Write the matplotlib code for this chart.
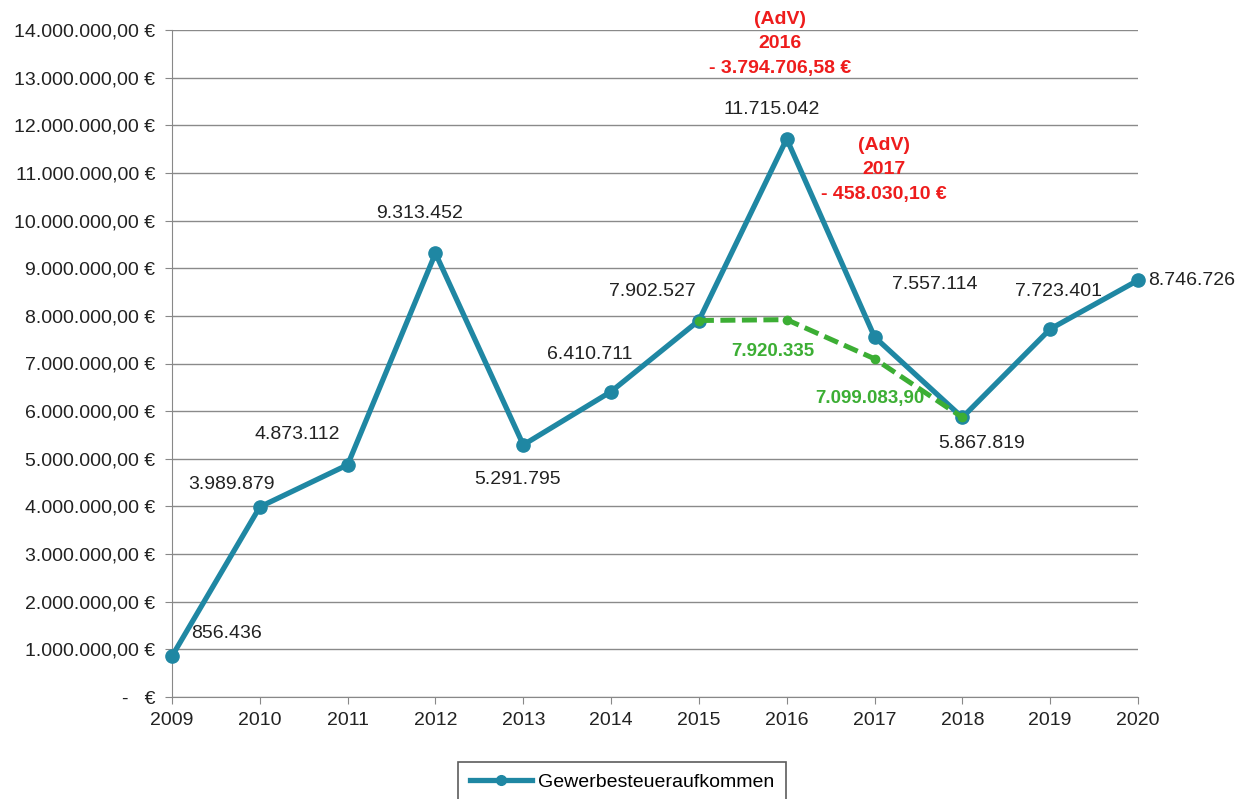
import matplotlib
matplotlib.use("Agg")
import matplotlib.pyplot as plt
from matplotlib.ticker import FuncFormatter, MultipleLocator

plt.rcParams["font.family"] = ["Liberation Sans", "DejaVu Sans"]

years = ["2009", "2010", "2011", "2012", "2013", "2014", "2015", "2016", "2017", "2018", "2019", "2020"]
revenue = [856436, 3989879, 4873112, 9313452, 5291795, 6410711, 7902527,
           11715042, 7557114, 5867819, 7723401, 8746726]
revenue_labels = ["856.436", "3.989.879", "4.873.112", "9.313.452", "5.291.795", "6.410.711",
                  "7.902.527", "11.715.042", "7.557.114", "5.867.819", "7.723.401", "8.746.726"]
# label offsets in pixels relative to each point
label_offsets = [(54, 23), (-28, 22), (-50, 30), (-16, 40), (-6, -35), (-21, 37),
                 (-47, 29), (-15, 29), (60, 52), (19, -26), (8, 38), (54, 0)]

adjusted_idx = [6, 7, 8, 9]
adjusted = [7902527, 7920335, 7099083.90, 5867819]
adjusted_labels = {7: "7.920.335", 8: "7.099.083,90"}
adjusted_offsets = {7: (-14, -32), 8: (-5, -40)}

adv_notes = {7: "(AdV)\n2016\n- 3.794.706,58 €", 8: "(AdV)\n2017\n- 458.030,10 €"}
adv_offsets = {7: (-7, 95), 8: (9, 167)}

TEAL = "#1f87a3"
GREEN = "#3cae34"
RED = "#ee1c1c"


def euro(v, pos):
    if v == 0:
        return "-   €"
    s = f"{v:,.2f}".replace(",", "X").replace(".", ",").replace("X", ".")
    return f"{s} €"


fig = plt.figure(figsize=(12.52, 7.99), dpi=100)
ax = fig.add_axes([172 / 1252, 1 - 697 / 799, (1138 - 172) / 1252, (697 - 30) / 799])

x = list(range(len(years)))
ax.plot(x, revenue, color=TEAL, lw=3.8, marker="o", ms=9.5, clip_on=False, zorder=3,
        label="Gewerbesteueraufkommen")
ax.plot(adjusted_idx, adjusted, color=GREEN, lw=3.6, ls=(0, (3, 1.3)), marker="o", ms=6,
        clip_on=False, zorder=4)

for i, (v, lab, off) in enumerate(zip(revenue, revenue_labels, label_offsets)):
    ax.annotate(lab, (i, v), xytext=off, textcoords="offset pixels", ha="center", va="center",
                fontsize=14, color="#222222", annotation_clip=False)

for i, v in zip(adjusted_idx, adjusted):
    if i in adjusted_labels:
        ax.annotate(adjusted_labels[i], (i, v), xytext=adjusted_offsets[i], textcoords="offset pixels",
                    ha="center", va="center", fontsize=13.5, color=GREEN, fontweight="bold")

for i, note in adv_notes.items():
    ax.annotate(note, (i, revenue[i]), xytext=adv_offsets[i], textcoords="offset pixels",
                ha="center", va="center", fontsize=14, color=RED, fontweight="bold",
                linespacing=1.55, annotation_clip=False)

ax.set_xlim(0, len(years) - 1)
ax.set_ylim(0, 14000000)
ax.set_xticks(x)
ax.set_xticklabels(years)
ax.yaxis.set_major_locator(MultipleLocator(1000000))
ax.yaxis.set_major_formatter(FuncFormatter(euro))
ax.tick_params(axis="both", labelsize=14, colors="#222222", length=5, color="#888888")
ax.tick_params(axis="y", pad=7)
ax.tick_params(axis="x", pad=6)
ax.grid(axis="y", color="#8a8a8a", lw=1)
ax.set_axisbelow(True)
for side in ["top", "right"]:
    ax.spines[side].set_visible(False)
for side in ["left", "bottom"]:
    ax.spines[side].set_color("#888888")

leg = fig.legend(loc="upper center", bbox_to_anchor=(622 / 1252, 1 - 752 / 799),
                 fontsize=14, frameon=True, fancybox=False, handlelength=3.2,
                 borderpad=0.6, handletextpad=0.3, borderaxespad=0.5)
leg.get_frame().set_edgecolor("#333333")
leg.get_frame().set_linewidth(1.2)
for h in leg.legend_handles:
    h.set_markersize(7)

fig.savefig("out.png", dpi=100)
